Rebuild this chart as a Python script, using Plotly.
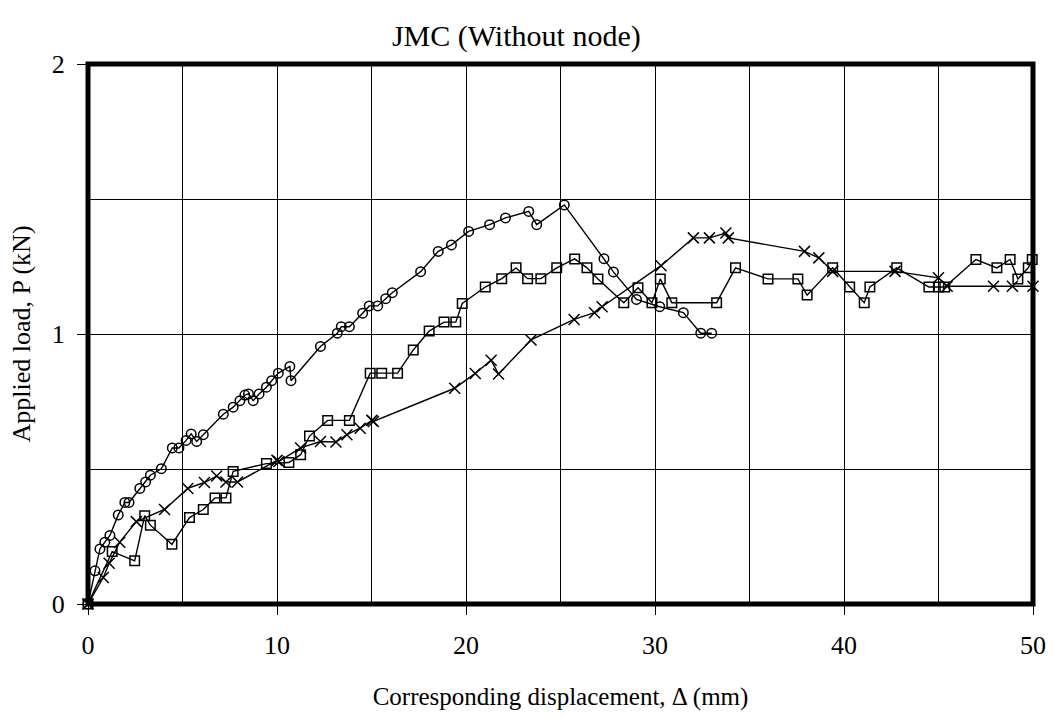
import plotly.graph_objects as go

# Load-displacement readings, three specimens
circ_x = [0, 0.37, 0.63, 0.89, 1.16, 1.6, 1.95, 2.17, 2.74, 3.05, 3.3, 3.88, 4.46, 4.81, 5.19, 5.46,
          5.75, 6.1, 7.16, 7.68, 8.04, 8.3, 8.49, 8.74, 9.05, 9.44, 9.72, 10.07, 10.68, 10.74, 12.3,
          13.19, 13.4, 13.83, 14.53, 14.88, 15.33, 15.75, 16.1, 17.6, 18.53, 19.23, 20.14, 21.25,
          22.09, 23.32, 23.74, 25.2, 27.3, 27.8, 29.02, 30.25, 31.5, 32.42, 33.0]
circ_y = [0, 0.123, 0.204, 0.229, 0.254, 0.33, 0.376, 0.376, 0.428, 0.452, 0.477, 0.501, 0.578, 0.578,
          0.606, 0.63, 0.602, 0.627, 0.703, 0.729, 0.753, 0.774, 0.778, 0.753, 0.778, 0.803, 0.827,
          0.855, 0.88, 0.827, 0.954, 1.003, 1.027, 1.027, 1.077, 1.104, 1.104, 1.131, 1.153, 1.231,
          1.306, 1.33, 1.38, 1.405, 1.43, 1.454, 1.405, 1.478, 1.279, 1.23, 1.128, 1.101, 1.079,
          1.003, 1.003]

sq_x = [0, 1.28, 2.47, 3.0, 3.3, 4.44, 5.37, 6.1, 6.72, 7.3, 7.68, 9.44, 10.63, 11.25, 11.72, 12.68,
        13.83, 14.93, 15.54, 16.38, 17.21, 18.05, 18.84, 19.46, 19.8, 21.02, 21.89, 22.65, 23.26,
        23.96, 24.8, 25.75, 26.4, 26.98, 28.35, 29.1, 29.84, 30.28, 30.89, 33.26, 34.26, 35.98,
        37.56, 38.05, 39.4, 40.3, 41.07, 41.37, 42.79, 44.49, 45.02, 45.33, 46.98, 48.09, 48.79,
        49.2, 49.75, 49.96]
sq_y = [0, 0.194, 0.16, 0.327, 0.292, 0.221, 0.32, 0.35, 0.393, 0.393, 0.491, 0.52, 0.524, 0.553,
        0.622, 0.68, 0.68, 0.855, 0.855, 0.855, 0.941, 1.011, 1.044, 1.044, 1.113, 1.174, 1.205,
        1.245, 1.205, 1.205, 1.245, 1.278, 1.245, 1.204, 1.116, 1.171, 1.116, 1.204, 1.116, 1.116,
        1.245, 1.204, 1.204, 1.144, 1.245, 1.174, 1.116, 1.174, 1.245, 1.174, 1.174, 1.174, 1.276,
        1.245, 1.276, 1.204, 1.245, 1.276]

cross_x = [0, 0.81, 1.12, 1.68, 2.56, 4.05, 5.28, 6.16, 6.81, 7.3, 7.91, 10.0, 10.1, 11.25, 12.3,
           13.12, 13.7, 14.4, 15.02, 15.1, 19.4, 20.49, 21.33, 21.72, 23.44, 25.72, 26.8, 27.2,
           30.32, 32.03, 32.88, 33.75, 33.88, 37.91, 38.67, 39.4, 42.7, 45.0, 45.46, 47.91, 48.91,
           50.0]
cross_y = [0, 0.098, 0.151, 0.229, 0.305, 0.35, 0.428, 0.45, 0.474, 0.452, 0.452, 0.532, 0.528,
           0.578, 0.602, 0.6, 0.627, 0.651, 0.68, 0.676, 0.799, 0.854, 0.903, 0.852, 0.978, 1.054,
           1.079, 1.101, 1.253, 1.356, 1.356, 1.374, 1.356, 1.306, 1.282, 1.232, 1.232, 1.208,
           1.177, 1.177, 1.177, 1.177]

FONT = "Liberation Serif, Times New Roman, serif"

fig = go.Figure()
series = [
    (circ_x, circ_y, "circle-open", 9.5),
    (sq_x, sq_y, "square-open", 9.5),
    (cross_x, cross_y, "x-thin-open", 11),
]
for xs, ys, sym, size in series:
    fig.add_trace(go.Scatter(
        x=xs, y=ys, mode="lines+markers", cliponaxis=False,
        line=dict(color="black", width=1.4),
        marker=dict(symbol=sym, size=size, color="black", line=dict(color="black", width=1.5)),
        showlegend=False,
    ))

fig.update_layout(
    width=1058, height=718,
    margin=dict(l=88, r=20, t=63.5, b=112),
    paper_bgcolor="white", plot_bgcolor="white",
    font=dict(family=FONT, color="black", size=26),
    title=dict(text="JMC (Without node)", x=0.488, xanchor="center", y=0.950, yanchor="middle",
               font=dict(family=FONT, size=30)),
    shapes=[dict(type="rect", xref="paper", yref="paper", x0=0, y0=0, x1=1, y1=1,
                 line=dict(color="black", width=5), layer="above")],
)
fig.update_xaxes(
    range=[0, 50], dtick=10, tick0=0, showgrid=True, gridcolor="black", gridwidth=1,
    minor=dict(dtick=5, showgrid=True, gridcolor="black", gridwidth=1),
    ticks="outside", ticklen=10, tickcolor="black", tickwidth=1,
    zeroline=False, showline=False, ticklabelstandoff=8,
    title=dict(text="Corresponding displacement, Δ (mm)", standoff=28, font=dict(size=25)),
)
fig.update_yaxes(
    range=[0, 2], dtick=1, tick0=0, showgrid=True, gridcolor="black", gridwidth=1,
    minor=dict(dtick=0.5, showgrid=True, gridcolor="black", gridwidth=1),
    ticks="outside", ticklen=10, tickcolor="black", tickwidth=1,
    zeroline=False, showline=False, ticklabelstandoff=7,
    title=dict(text="Applied load, P (kN)", standoff=13, font=dict(size=26)),
)

fig.write_html("out.html")
